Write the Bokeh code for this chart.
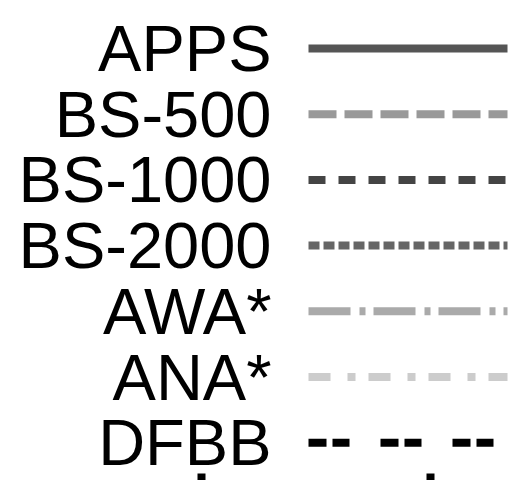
from bokeh.plotting import figure
from bokeh.models import Range1d
from bokeh.core.properties import value
from bokeh.embed import file_html
from bokeh.resources import INLINE

# ---- data ----
labels = ["APPS", "BS-500", "BS-1000", "BS-2000", "AWA*", "ANA*", "DFBB"]
colors = ["#555555", "#999999", "#444444", "#666666", "#aaaaaa", "#cccccc", "#000000"]
dashes = ["solid", "28 8", "17 13", "11 4", "42 9 6 8", "22 17 8 13", "18 6 17 31"]
lower_ticks = [201, 430]   # partially visible tick marks of the panel below

W, H = 510, 480
ROW0, ROWSTEP = 48.0, 65.7   # pixel position of first row, spacing

p = figure(width=W, height=H, output_backend="svg", toolbar_location=None,
           x_range=Range1d(0, W),
           y_range=Range1d((H - ROW0) / ROWSTEP, -ROW0 / ROWSTEP),
           min_border=0, tools="")
p.axis.visible = False
p.grid.visible = False
p.outline_line_color = None
p.background_fill_color = "white"
p.border_fill_color = "white"

rows = list(range(len(labels)))

p.text(x=[271] * len(labels), y=rows, text=labels,
       text_align="right", text_baseline="alphabetic", y_offset=0,
       text_font=value("Liberation Sans"), text_font_size="65px",
       text_color="#000000")

for i, (c, d) in enumerate(zip(colors, dashes)):
    p.segment(x0=[308], y0=[i], x1=[507], y1=[i], line_color=c,
              line_width=8, line_dash=d, line_cap="butt")

ybot = (H - ROW0) / ROWSTEP
ytop = (473 - ROW0) / ROWSTEP
p.segment(x0=lower_ticks, y0=[ytop] * 2, x1=lower_ticks, y1=[ybot + 0.2] * 2,
          line_color="#000000", line_width=8, line_cap="butt")

open("out.html", "w").write(file_html(p, INLINE))
